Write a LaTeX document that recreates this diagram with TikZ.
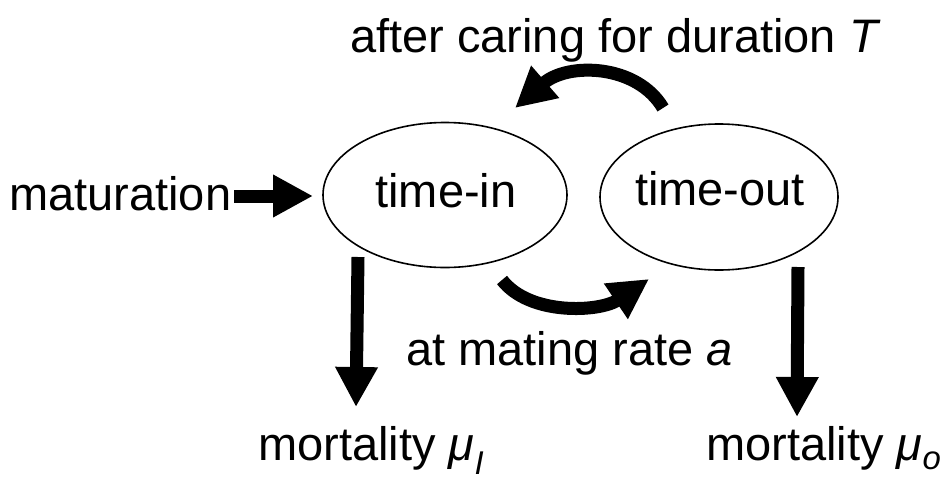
\documentclass[tikz,border=0pt]{standalone}
\usepackage{fontspec}
\setmainfont{Liberation Sans}
\usetikzlibrary{arrows.meta,shapes.geometric}
\begin{document}
\begin{tikzpicture}[x=1pt,y=-1pt,
  lbl/.style={inner sep=0pt, font=\fontsize{47}{56}\selectfont},
  state/.style={draw, line width=1.6pt, ellipse, inner sep=0pt},
  arr/.style={line width=13pt, -{Triangle[width=40pt,length=40pt]}}]
\useasboundingbox (0,0) rectangle (947,477);
% states
\node[state, minimum width=244pt, minimum height=145pt] (tin) at (445,195) {};
\node[state, minimum width=238pt, minimum height=146pt] (tout) at (719,197) {};
\node[lbl, anchor=base] (tintxt) at (446,207) {time-in};
\node[lbl, anchor=base] (touttxt) at (720,205) {time-out};
% labels
\node[lbl, anchor=base west] (title) at (350,52) {after caring for duration \textit{T}};
\node[lbl, anchor=base west] (mat) at (9,210) {maturation};
\node[lbl, anchor=base west] (rate) at (406,365) {at mating rate \textit{a}};
\node[lbl, anchor=base west] (mortI) at (258,460) {mortality \textit{μ\textsubscript{I}}};
\node[lbl, anchor=base west] (mortO) at (706,460) {mortality \textit{μ\textsubscript{o}}};
% connector ends
\coordinate (matS) at (234,196);
\coordinate (matE) at (313,196);
\coordinate (topS) at (663,108);
\coordinate (topE) at (515,108);
\coordinate (botS) at (502,280);
\coordinate (botE) at (649,279);
\coordinate (dIS) at (358,257);
\coordinate (dIE) at (356,407);
\coordinate (dOS) at (798,267);
\coordinate (dOE) at (797,417);
% arrows
\draw[arr] (matS) -- (matE);
\draw[arr] (topS) .. controls (637,64) and (568,62) .. (topE);
\draw[arr] (botS) .. controls (530,316) and (600,312) .. (botE);
\draw[arr] (dIS) -- (dIE);
\draw[arr] (dOS) -- (dOE);
\end{tikzpicture}
\end{document}
